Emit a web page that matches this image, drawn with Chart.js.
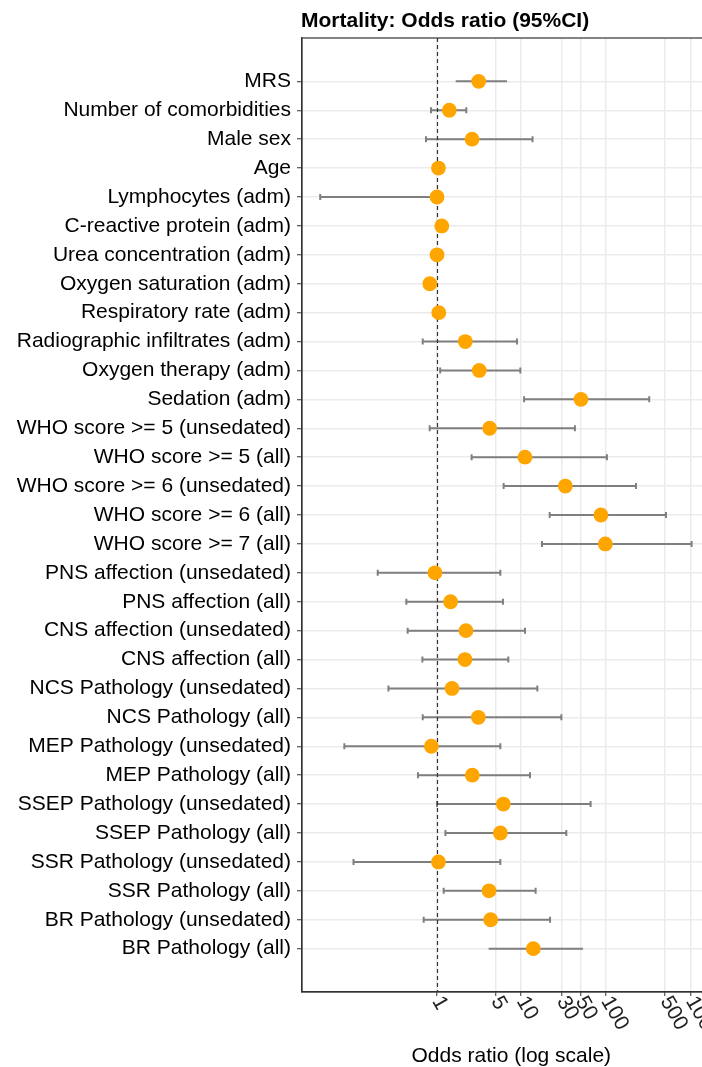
<!DOCTYPE html>
<html>
<head>
<meta charset="utf-8">
<title>Mortality: Odds ratio (95%CI)</title>
<script src="https://cdn.jsdelivr.net/npm/chart.js@4.4.0/dist/chart.umd.min.js"></script>
<style>
  html, body { margin: 0; padding: 0; background: #fff; overflow: hidden; }
  /* the panel runs past the right edge of the window, as in the cropped original */
  #wrap { width: 728px; height: 1067px; }
</style>
</head>
<body>
<div id="wrap"><canvas id="forest" width="728" height="1067"></canvas></div>
<script>
// rows, top to bottom
var labels = [
    "MRS", "Number of comorbidities", "Male sex", "Age", "Lymphocytes (adm)",
    "C-reactive protein (adm)", "Urea concentration (adm)", "Oxygen saturation (adm)",
    "Respiratory rate (adm)", "Radiographic infiltrates (adm)", "Oxygen therapy (adm)",
    "Sedation (adm)", "WHO score >= 5 (unsedated)", "WHO score >= 5 (all)",
    "WHO score >= 6 (unsedated)", "WHO score >= 6 (all)", "WHO score >= 7 (all)",
    "PNS affection (unsedated)", "PNS affection (all)", "CNS affection (unsedated)",
    "CNS affection (all)", "NCS Pathology (unsedated)", "NCS Pathology (all)",
    "MEP Pathology (unsedated)", "MEP Pathology (all)", "SSEP Pathology (unsedated)",
    "SSEP Pathology (all)", "SSR Pathology (unsedated)", "SSR Pathology (all)",
    "BR Pathology (unsedated)", "BR Pathology (all)"
];
var oddsRatio = [3.14, 1.41, 2.62, 1.05, 1.01, 1.15, 1.01, 0.83, 1.06, 2.18, 3.19,
    50.8, 4.23, 11.07, 33.2, 87.5, 98.6, 0.955, 1.46, 2.22, 2.16, 1.52, 3.11,
    0.865, 2.64, 6.14, 5.66, 1.05, 4.16, 4.35, 13.9];
var ciLow = [1.68, 0.857, 0.748, 1.03, 0.042, 1.10, 1.00, 0.78, 1.00, 0.684, 1.10,
    10.8, 0.827, 2.59, 6.19, 21.7, 17.6, 0.201, 0.438, 0.454, 0.678, 0.269, 0.684,
    0.081, 0.601, 1.01, 1.27, 0.104, 1.21, 0.702, 4.12];
var ciHigh = [6.78, 2.24, 13.6, 1.07, 1.05, 1.20, 1.03, 0.88, 1.12, 8.9, 9.76,
    326, 43.1, 103, 227, 514, 1033, 5.66, 6.08, 11.07, 7.03, 15.5, 29.8,
    5.66, 12.7, 66.1, 34.1, 5.66, 14.8, 21.9, 53.7];
var xTicks = [1, 5, 10, 30, 50, 100, 500, 1000];

// these two intervals are drawn without end caps in the original
var noCaps = ["MRS", "BR Pathology (all)"];

var FONT = "'Liberation Sans', Arial, Helvetica, sans-serif";

var points = oddsRatio.map(function(v, i) { return {x: v, y: i}; });

var forestPlugin = {
    id: 'forest',
    beforeDatasetsDraw: function(chart) {
        var ctx = chart.ctx, xs = chart.scales.x, ys = chart.scales.y, a = chart.chartArea;
        ctx.save();
        ctx.beginPath();
        ctx.rect(a.left, a.top, a.right - a.left, a.bottom - a.top);
        ctx.clip();
        // confidence intervals
        ctx.strokeStyle = '#7f7f7f';
        ctx.lineWidth = 2;
        labels.forEach(function(lab, i) {
            var y = ys.getPixelForValue(i);
            var x0 = xs.getPixelForValue(ciLow[i]);
            var x1 = xs.getPixelForValue(ciHigh[i]);
            ctx.beginPath();
            ctx.moveTo(x0, y);
            ctx.lineTo(x1, y);
            if (noCaps.indexOf(lab) < 0) {
                ctx.moveTo(x0, y - 3); ctx.lineTo(x0, y + 3);
                ctx.moveTo(x1, y - 3); ctx.lineTo(x1, y + 3);
            }
            ctx.stroke();
        });
        // reference line at OR = 1
        var xr = Math.round(xs.getPixelForValue(1)) + 0.5;
        ctx.strokeStyle = '#333';
        ctx.lineWidth = 1.2;
        ctx.setLineDash([4, 3]);
        ctx.beginPath();
        ctx.moveTo(xr, a.top);
        ctx.lineTo(xr, a.bottom);
        ctx.stroke();
        ctx.restore();
    },
    afterDraw: function(chart) {
        var ctx = chart.ctx, xs = chart.scales.x, a = chart.chartArea;
        ctx.save();
        // panel frame
        ctx.strokeStyle = '#333';
        ctx.lineWidth = 1.2;
        ctx.strokeRect(a.left, a.top, a.right - a.left, a.bottom - a.top);
        // title
        ctx.fillStyle = '#000';
        ctx.font = 'bold 21px ' + FONT;
        ctx.textAlign = 'left';
        ctx.textBaseline = 'alphabetic';
        ctx.fillText('Mortality: Odds ratio (95%CI)', a.left - 1, 27);
        // rotated x tick labels
        ctx.fillStyle = '#222';
        ctx.font = '21px ' + FONT;
        ctx.textBaseline = 'middle';
        xTicks.forEach(function(v) {
            var x = xs.getPixelForValue(v);
            ctx.save();
            ctx.translate(x, a.bottom + 6);
            ctx.rotate(Math.PI / 3);
            ctx.fillText(String(v), 0, 0);
            ctx.restore();
        });
        // x axis title
        ctx.fillStyle = '#000';
        ctx.textAlign = 'center';
        ctx.textBaseline = 'alphabetic';
        ctx.fillText('Odds ratio (log scale)', (a.left + a.right) / 2, 1062);
        ctx.restore();
    }
};

new Chart(document.getElementById('forest'), {
    type: 'scatter',
    data: {
        datasets: [{
            data: points,
            backgroundColor: '#FFA500',
            borderWidth: 0,
            pointRadius: 7.4,
            pointHoverRadius: 7.4
        }]
    },
    options: {
        responsive: false,
        animation: false,
        layout: { padding: { top: 38, right: 1, bottom: 0, left: 0 } },
        plugins: {
            legend: { display: false },
            tooltip: { enabled: false },
            title: { display: false }
        },
        scales: {
            x: {
                type: 'logarithmic',
                min: 0.02558,
                max: 2275,
                bounds: 'data',
                afterBuildTicks: function(s) {
                    s.ticks = xTicks.map(function(v) { return {value: v}; });
                },
                afterFit: function(s) { s.height = 75; },
                ticks: { display: false },
                grid: { color: '#ebebeb', lineWidth: 1.5, tickLength: 4, tickColor: '#333', tickWidth: 1 },
                border: { color: '#333', width: 1.2 }
            },
            y: {
                type: 'linear',
                reverse: true,
                min: -1.5,
                max: 31.5,
                afterBuildTicks: function(s) {
                    s.ticks = labels.map(function(_, i) { return {value: i}; });
                },
                afterFit: function(s) { s.width = 302; },
                ticks: {
                    autoSkip: false,
                    padding: 6,
                    color: '#000',
                    font: { family: FONT, size: 21 },
                    callback: function(v) { return labels[v]; }
                },
                grid: { color: '#ebebeb', lineWidth: 1.5, tickLength: 5, tickColor: '#333', tickWidth: 1 },
                border: { color: '#333', width: 1.2 }
            }
        }
    },
    plugins: [forestPlugin]
});
</script>
</body>
</html>
